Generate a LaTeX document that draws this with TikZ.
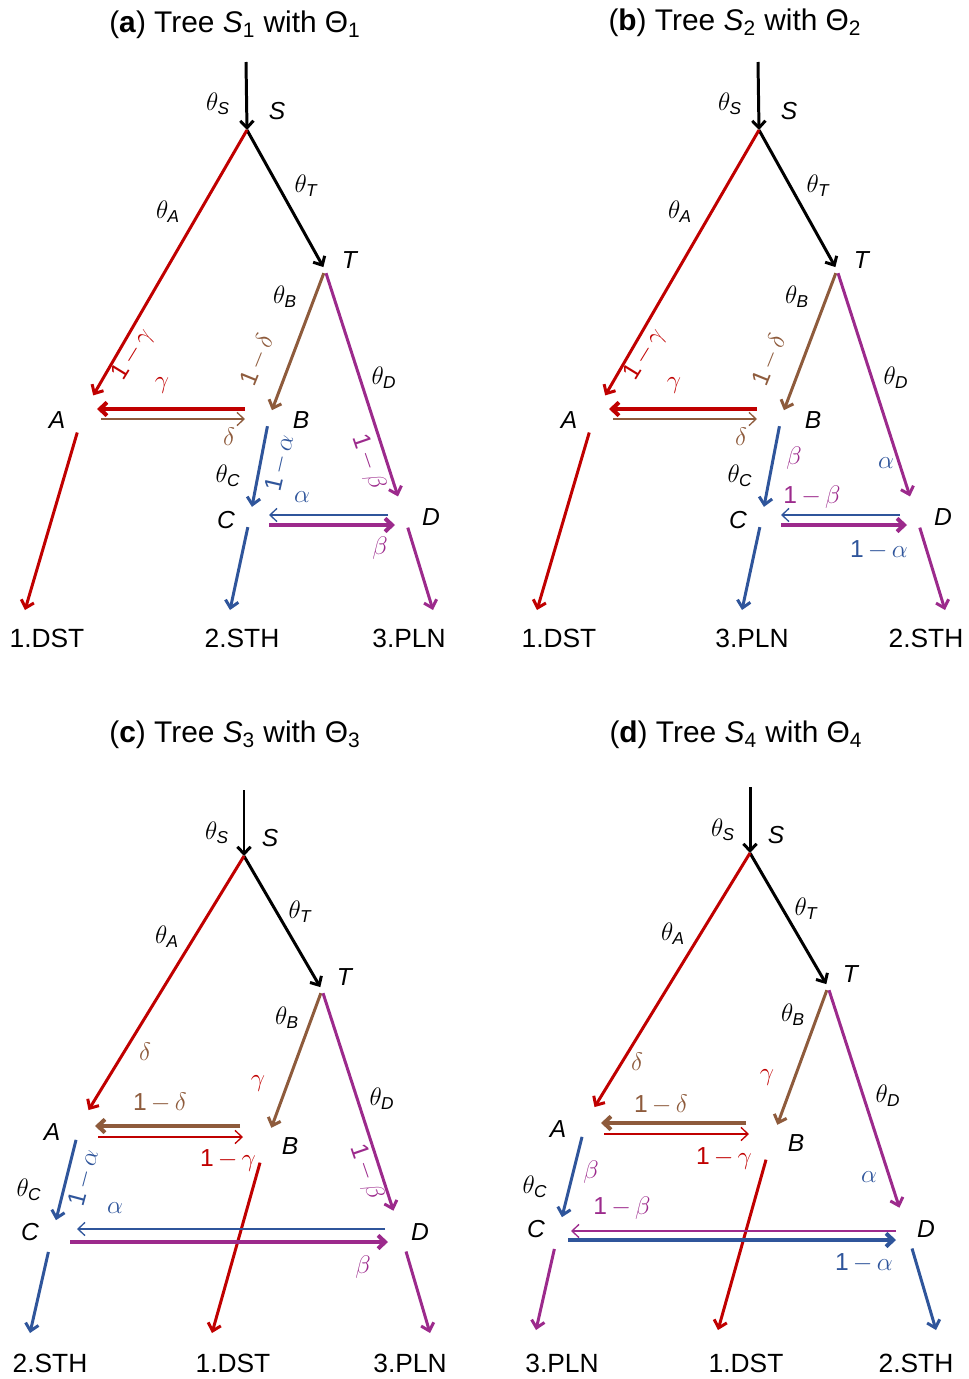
\documentclass[tikz,border=0pt]{standalone}
\usepackage{amsmath}
\usepackage{fontspec}
\setmainfont{Liberation Sans}
\usetikzlibrary{arrows.meta, calc}
\definecolor{tred}{HTML}{C00000}
\definecolor{tbrown}{HTML}{8E5B3C}
\definecolor{tblue}{HTML}{2F559B}
\definecolor{tpurple}{HTML}{9C2A8C}
\newcommand{\onem}[1]{1\,$-\,#1$}
\tikzset{
  >={Straight Barb[length=4pt, width=7.5pt]},
  every picture/.style={line join=miter},
  branch/.style={->, line width=1.7pt},
  flowthick/.style={->, line width=2.3pt},
  flowthin/.style={->, line width=0.75pt},
  junction/.style={circle, inner sep=0pt, minimum size=#1*0.04cm},
  lbl/.style={inner sep=0pt, font=\fontsize{14}{16}\selectfont},
  leaf/.style={inner sep=0pt, font=\fontsize{15}{17}\selectfont},
  ttl/.style={inner sep=0pt, font=\fontsize{17}{20}\selectfont},
  % trees (a) and (b): same branches, own labels
  upper/.pic={
    \coordinate (-root) at (246,62);
    \coordinate (-S) at (247,130);
    \node[junction=3] (-T) at (325,270) {};
    \node[junction=20] (-A) at (83,413) {};
    \node[junction=8] (-B) at (269,418) {};
    \node[junction=10] (-C) at (250,517) {};
    \node[junction=16] (-D) at (403,512) {};
    \coordinate (-E1) at (25,610);
    \coordinate (-E2) at (230,610);
    \coordinate (-E3) at (433,610);
    \draw[branch] (-root) -- (-S);
    \draw[branch] (-S) -- (-T);
    \draw[branch, tred] (-S) -- (-A);
    \draw[branch, tbrown] (-T) -- (-B);
    \draw[branch, tpurple] (-T) -- (-D);
    \draw[branch, tblue] (-B) -- (-C);
    \draw[branch, tred] (-A) -- (-E1);
    \draw[branch, tblue] (-C) -- (-E2);
    \draw[branch, tpurple] (-D) -- (-E3);
    \draw[flowthick, tred] ($(-B)+(-24,-9)$) -- ($(-A)+(14,-4)$);
    \draw[flowthin, tbrown] ($(-A)+(18,6)$) -- ($(-B)+(-24,1)$);
    \draw[flowthin, tblue] ($(-D)+(-15,3)$) -- ($(-C)+(19,-2)$);
    \draw[flowthick, tpurple] ($(-C)+(19,8)$) -- ($(-D)+(-8,13)$);
    \node[lbl] (-thS) at (218,104) {$\theta_{\textit{S}}$};
    \node[lbl] (-nS) at (277,111) {\textit{S}};
    \node[lbl] (-thT) at (306,186) {$\theta_{\textit{T}}$};
    \node[lbl] (-nT) at (350,260) {\textit{T}};
    \node[lbl] (-thA) at (168,212) {$\theta_{\textit{A}}$};
    \node[lbl] (-thB) at (285,297) {$\theta_{\textit{B}}$};
    \node[lbl] (-thD) at (384,378) {$\theta_{\textit{D}}$};
    \node[lbl] (-thC) at (228,476) {$\theta_{\textit{C}}$};
    \node[lbl] (-nA) at (57,420) {\textit{A}};
    \node[lbl] (-nB) at (301,420) {\textit{B}};
    \node[lbl] (-nC) at (226,520) {\textit{C}};
    \node[lbl] (-nD) at (431,517) {\textit{D}};
    \node[lbl, text=tred, rotate=58.5] (-mg) at (133,355) {\onem{\gamma}};
    \node[lbl, text=tred] (-g) at (162,386) {$\gamma$};
    \node[lbl, text=tbrown] (-d) at (229,437) {$\delta$};
    \node[lbl, text=tbrown, rotate=68] (-md) at (257,360) {\onem{\delta}};
  },
  % trees (c) and (d)
  lower/.pic={
    \coordinate (-root) at (244,790);
    \coordinate (-S) at (244,856);
    \node[junction=3] (-T) at (322,990) {};
    \node[junction=16] (-A) at (80,1124) {};
    \node[junction=18] (-B) at (265,1145) {};
    \node[junction=16] (-C) at (52,1236) {};
    \node[junction=21] (-D) at (400,1231) {};
    \coordinate (-E1) at (212,1333);
    \coordinate (-E2) at (30,1333);
    \coordinate (-E3) at (430,1333);
    \draw[branch] (-root) -- (-S);
    \draw[branch] (-S) -- (-T);
    \draw[branch, tred] (-S) -- (-A);
    \draw[branch, tbrown] (-T) -- (-B);
    \draw[branch, tpurple] (-T) -- (-D);
    \draw[branch, tblue] (-A) -- (-C);
    \draw[branch, tred] (-B) -- (-E1);
    \draw[flowthick, tbrown] ($(-B)+(-25,-19)$) -- ($(-A)+(15,2)$);
    \draw[flowthin, tred] ($(-A)+(18,13)$) -- ($(-B)+(-22,-8)$);
    \node[lbl] (-thS) at (217,833) {$\theta_{\textit{S}}$};
    \node[lbl] (-nS) at (270,838) {\textit{S}};
    \node[lbl] (-thT) at (300,912) {$\theta_{\textit{T}}$};
    \node[lbl] (-nT) at (345,977) {\textit{T}};
    \node[lbl] (-thA) at (167,937) {$\theta_{\textit{A}}$};
    \node[lbl] (-thB) at (287,1018) {$\theta_{\textit{B}}$};
    \node[lbl] (-thD) at (382,1099) {$\theta_{\textit{D}}$};
    \node[lbl] (-thC) at (29,1190) {$\theta_{\textit{C}}$};
    \node[lbl] (-nA) at (52,1132) {\textit{A}};
    \node[lbl] (-nB) at (290,1146) {\textit{B}};
    \node[lbl] (-nC) at (30,1232) {\textit{C}};
    \node[lbl] (-nD) at (420,1232) {\textit{D}};
  },
}

\begin{document}
\begin{tikzpicture}[x=0.02cm, y=-0.02cm]
  \useasboundingbox (0,0) rectangle (968,1379);

  % (a)
  \node[ttl] (ta) at (235,25) {(\textbf{a}) Tree \textit{S}\textsubscript{1} with Θ\textsubscript{1}};
  \pic (a) at (0,0) {upper};
  \node[lbl, text=tblue, rotate=77] (a-ma) at (280,463) {\onem{\alpha}};
  \node[lbl, text=tpurple, rotate=-71] (a-mb) at (368,462) {\onem{\beta}};
  \node[lbl, text=tblue] (a-a) at (302,497) {$\alpha$};
  \node[lbl, text=tpurple] (a-b) at (380,548) {$\beta$};
  \node[leaf] (a-L1) at (47,638) {1.DST};
  \node[leaf] (a-L2) at (242,638) {2.STH};
  \node[leaf] (a-L3) at (409,638) {3.PLN};

  % (b)
  \node[ttl] (tb) at (735,23) {(\textbf{b}) Tree \textit{S}\textsubscript{2} with Θ\textsubscript{2}};
  \pic (b) at (512,0) {upper};
  \node[lbl, text=tpurple] (b-b) at (794,458) {$\beta$};
  \node[lbl, text=tblue] (b-a) at (886,463) {$\alpha$};
  \node[lbl, text=tpurple] (b-mb) at (812,497) {\onem{\beta}};
  \node[lbl, text=tblue] (b-ma) at (879,550) {\onem{\alpha}};
  \node[leaf] (b-L1) at (559,638) {1.DST};
  \node[leaf] (b-L3) at (752,638) {3.PLN};
  \node[leaf] (b-L2) at (926,638) {2.STH};

  % (c)
  \node[ttl] (tc) at (235,735) {(\textbf{c}) Tree \textit{S}\textsubscript{3} with Θ\textsubscript{3}};
  \pic (c) at (0,0) {lower};
  \draw[branch, tblue] (c-C) -- (c-E2);
  \draw[branch, tpurple] (c-D) -- (c-E3);
  \draw[flowthin, tblue] ($(c-D)+(-15,-2)$) -- ($(c-C)+(25,-7)$);
  \draw[flowthick, tpurple] ($(c-C)+(18,6)$) -- ($(c-D)+(-12,11)$);
  \node[lbl, text=tbrown] (c-d) at (145,1052) {$\delta$};
  \node[lbl, text=tred] (c-g) at (258,1083) {$\gamma$};
  \node[lbl, text=tbrown] (c-md) at (160,1103) {\onem{\delta}};
  \node[lbl, text=tred] (c-mg) at (228,1160) {\onem{\gamma}};
  \node[lbl, text=tpurple, rotate=-71] (c-mb) at (366,1172) {\onem{\beta}};
  \node[lbl, text=tblue, rotate=75] (c-ma) at (84,1178) {\onem{\alpha}};
  \node[lbl, text=tblue] (c-a) at (115,1208) {$\alpha$};
  \node[lbl, text=tpurple] (c-b) at (363,1267) {$\beta$};
  \node[leaf] (c-L2) at (50,1363) {2.STH};
  \node[leaf] (c-L1) at (233,1363) {1.DST};
  \node[leaf] (c-L3) at (410,1363) {3.PLN};

  % (d)
  \node[ttl] (td) at (736,735) {(\textbf{d}) Tree \textit{S}\textsubscript{4} with Θ\textsubscript{4}};
  \pic (d) at (506,-3) {lower};
  \draw[branch, tpurple] (d-C) -- (d-E2);
  \draw[branch, tblue] (d-D) -- (d-E3);
  \draw[flowthin, tpurple] ($(d-D)+(-10,3)$) -- ($(d-C)+(13,-2)$);
  \draw[flowthick, tblue] ($(d-C)+(10,7)$) -- ($(d-D)+(-10,12)$);
  \node[lbl, text=tbrown] (d-d) at (637,1062) {$\delta$};
  \node[lbl, text=tred] (d-g) at (767,1077) {$\gamma$};
  \node[lbl, text=tbrown] (d-md) at (661,1105) {\onem{\delta}};
  \node[lbl, text=tred] (d-mg) at (724,1158) {\onem{\gamma}};
  \node[lbl, text=tblue] (d-a) at (869,1177) {$\alpha$};
  \node[lbl, text=tpurple] (d-b) at (591,1172) {$\beta$};
  \node[lbl, text=tpurple] (d-mb) at (622,1208) {\onem{\beta}};
  \node[lbl, text=tblue] (d-ma) at (864,1263) {\onem{\alpha}};
  \node[leaf] (d-L3) at (562,1363) {3.PLN};
  \node[leaf] (d-L1) at (746,1363) {1.DST};
  \node[leaf] (d-L2) at (916,1363) {2.STH};
\end{tikzpicture}
\end{document}
